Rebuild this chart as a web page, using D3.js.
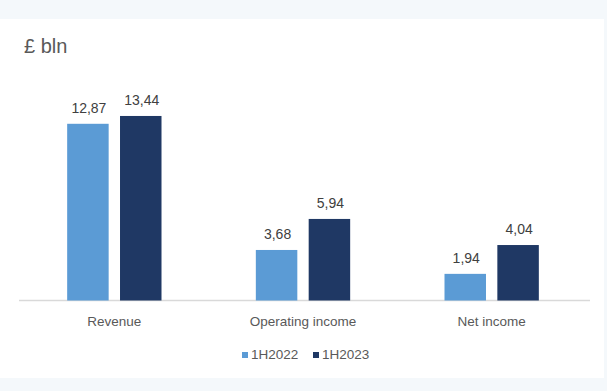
<!DOCTYPE html>
<html>
<head>
<meta charset="utf-8">
<script src="https://cdn.jsdelivr.net/npm/d3@7"></script>
<style>
  html, body { margin: 0; padding: 0; background: #f4f8fb; }
  svg { display: block; }
</style>
</head>
<body>
<div id="chart"></div>
<script>
// data
const categories = ["Revenue", "Operating income", "Net income"];
const seriesNames = ["1H2022", "1H2023"];
const values2022 = [12.87, 3.68, 1.94];
const values2023 = [13.44, 5.94, 4.04];
const colors = ["#5b9bd5", "#1f3864"];

const W = 607, H = 391;
const fontFam = "'Liberation Sans', Arial, sans-serif";

const svg = d3.select("#chart").append("svg")
  .attr("width", W)
  .attr("height", H);

// panel
svg.append("rect")
  .attr("x", 0).attr("y", 19)
  .attr("width", 604).attr("height", 359)
  .attr("fill", "#ffffff");

const baseY = 300.5;
const x0 = d3.scaleBand()
  .domain(categories)
  .range([20, 586]);

const x1 = d3.scaleBand()
  .domain(seriesNames)
  .range([x0.bandwidth() * 0.25, x0.bandwidth() * 0.75])
  .paddingInner(0.215);

const y = d3.scaleLinear()
  .domain([0, 14])
  .range([baseY, baseY - 14 * 13.73]);

const rows = categories.map((c, i) => ({
  cat: c,
  vals: [
    { s: seriesNames[0], v: values2022[i], k: 0 },
    { s: seriesNames[1], v: values2023[i], k: 1 }
  ]
}));

// baseline
svg.append("line")
  .attr("x1", 19).attr("x2", 590)
  .attr("y1", baseY).attr("y2", baseY)
  .attr("stroke", "#d9d9d9")
  .attr("stroke-width", 1.5);

const groups = svg.selectAll(".grp")
  .data(rows)
  .enter()
  .append("g")
  .attr("class", "grp")
  .attr("transform", d => "translate(" + x0(d.cat) + ",0)");

groups.selectAll("rect")
  .data(d => d.vals)
  .enter()
  .append("rect")
  .attr("x", d => x1(d.s))
  .attr("y", d => y(d.v))
  .attr("width", x1.bandwidth())
  .attr("height", d => y(0) - y(d.v))
  .attr("fill", d => colors[d.k]);

groups.selectAll("text.lbl")
  .data(d => d.vals)
  .enter()
  .append("text")
  .attr("class", "lbl")
  .attr("x", d => x1(d.s) + x1.bandwidth() / 2 + 1)
  .attr("y", d => y(d.v) - 11)
  .attr("text-anchor", "middle")
  .attr("font-family", fontFam)
  .attr("font-size", "14px")
  .attr("fill", "#404040")
  .text(d => d3.format(".2f")(d.v).replace(".", ","));

// category axis
const xAxis = svg.append("g")
  .attr("transform", "translate(0," + baseY + ")")
  .call(d3.axisBottom(x0).tickSize(0).tickPadding(16));
xAxis.select(".domain").remove();
xAxis.selectAll("text")
  .attr("font-family", fontFam)
  .attr("font-size", "13.5px")
  .attr("fill", "#595959");

// title
svg.append("text")
  .attr("x", 24)
  .attr("y", 53)
  .attr("font-family", fontFam)
  .attr("font-size", "20px")
  .attr("fill", "#595959")
  .text("£ bln");

// legend
const legendX = [242, 313];
const legend = svg.selectAll(".leg")
  .data(seriesNames)
  .enter()
  .append("g")
  .attr("class", "leg")
  .attr("transform", (d, i) => "translate(" + legendX[i] + ",354)");
legend.append("rect")
  .attr("x", 0).attr("y", -2)
  .attr("width", 6).attr("height", 6)
  .attr("fill", (d, i) => colors[i]);
legend.append("text")
  .attr("x", 9)
  .attr("y", 5)
  .attr("font-family", fontFam)
  .attr("font-size", "13.5px")
  .attr("fill", "#595959")
  .text(d => d);
</script>
</body>
</html>
